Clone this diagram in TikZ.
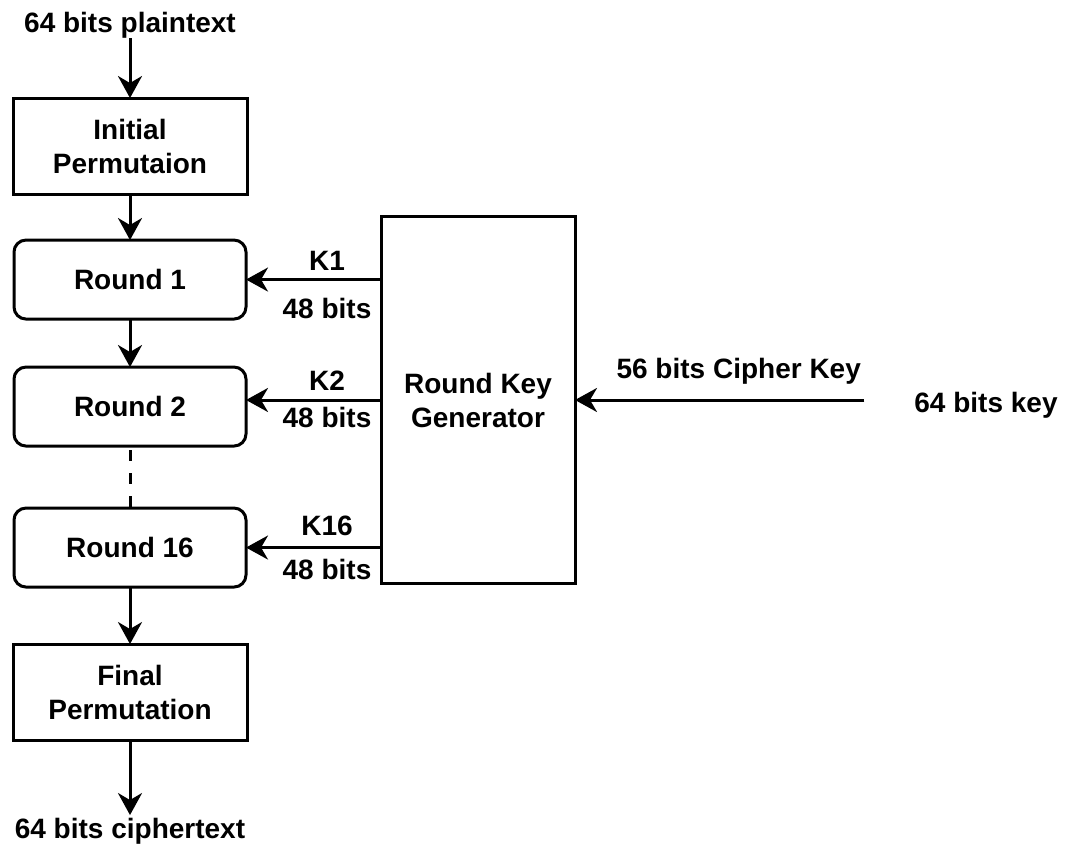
\documentclass[tikz,border=0pt]{standalone}
\usepackage{fontspec}
\setmainfont{Liberation Sans}
\usetikzlibrary{arrows.meta,positioning}

\begin{document}
\begin{tikzpicture}[
  x=1pt, y=-1pt,
  font=\bfseries\fontsize{28}{34}\selectfont,
  node distance=48pt,
  block/.style={
    rectangle, draw=black, line width=3pt,
    minimum width=234pt, minimum height=96pt,
    align=center, inner sep=0pt, outer sep=0pt
  },
  roundbox/.style={
    block, rounded corners=12pt,
    minimum width=232pt, minimum height=79pt
  },
  keygen/.style={
    block, minimum width=194pt, minimum height=366pt
  },
  io/.style={inner sep=0pt, outer sep=0pt},
  lbl/.style={inner sep=2pt, pos=0.4},
  arr/.style={-{Stealth[length=22pt, width=24pt, inset=7pt]}, line width=3pt, black}
]
\useasboundingbox (0,0) rectangle (1065,850);
\node[io] (plain) at (130,25) {64 bits plaintext};
\node[block, below=60pt of plain]   (ip)  {Initial\\Permutaion};
\node[roundbox, below=46pt of ip]   (r1)  {Round 1};
\node[roundbox, below=48pt of r1]   (r2)  {Round 2};
\node[roundbox, below=62pt of r2]   (r16) {Round 16};
\node[block, below=57pt of r16]     (fp)  {Final\\Permutation};
\node[io, below=78pt of fp]         (cipher) {64 bits ciphertext};
\node[keygen] (rkg) at (478,400) {Round Key\\Generator};
\node[io] (key) at (986,405) {64 bits key};
\coordinate[left=50pt of key.west] (keyin);
\draw[arr] (plain) -- (ip);
\draw[arr] (ip)  -- (r1);
\draw[arr] (r1)  -- (r2);
\draw[line width=3pt, dash pattern=on 11pt off 12pt, dash phase=19pt] (r2) -- (r16);
\draw[arr] (r16) -- (fp);
\draw[arr] (fp)  -- ([yshift=3pt]cipher.north);
\draw[arr] (rkg.west |- r1.east) -- node[lbl, above=6pt]{K1} node[lbl, below=15pt]{48 bits} (r1.east);
\draw[arr] (rkg.west) -- node[lbl, above=6pt]{K2} node[lbl, below=4pt]{48 bits} (rkg.west -| r2.east);
\draw[arr] (rkg.west |- r16.east) -- node[lbl, above=8pt]{K16} node[lbl, below=8pt]{48 bits} (r16.east);
\draw[arr] (keyin |- rkg.east) -- node[lbl, pos=0, anchor=south east, yshift=12pt]{56 bits Cipher Key} (rkg.east);
\end{tikzpicture}
\end{document}
